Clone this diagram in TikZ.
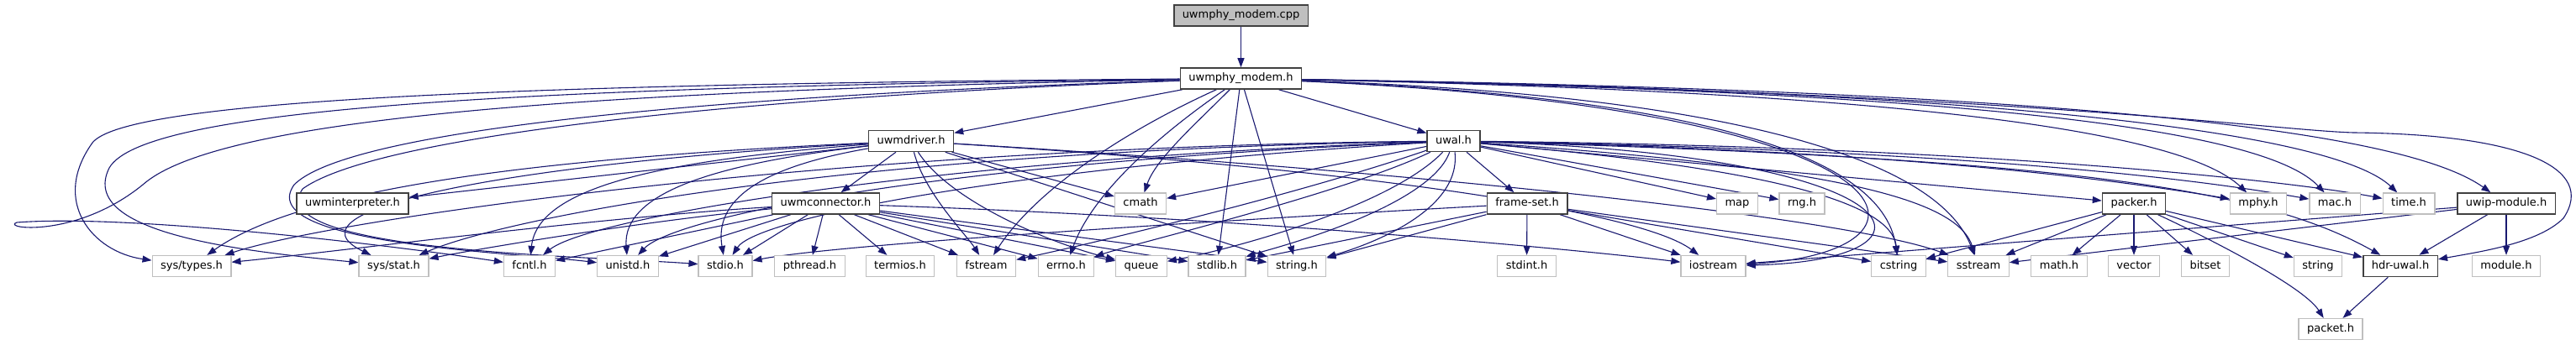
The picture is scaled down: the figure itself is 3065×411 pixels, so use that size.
\documentclass[tikz,border=0pt]{standalone}
\usepackage{fontspec}
\setmainfont{DejaVu Sans}
\usetikzlibrary{arrows.meta,backgrounds}
\definecolor{edgeblue}{HTML}{191970}
\definecolor{sysgray}{HTML}{BFBFBF}

\begin{document}
\begin{tikzpicture}[
  x=1pt, y=-1pt,
  font=\fontsize{13}{15}\selectfont,
  box/.style={draw, rectangle, fill=white, inner xsep=10pt, inner ysep=0pt,
              minimum height=25pt, text height=10pt, text depth=3pt},
  hdr/.style={box, draw=black!75, line width=1.5pt},
  sys/.style={box, draw=sysgray, line width=1.2pt},
  root/.style={hdr, fill=sysgray},
  arr/.style={draw=edgeblue, line width=1.1pt, -{Triangle[length=11pt,width=8pt]}}
]
\useasboundingbox (0,0) rectangle (3065,411);

% Top: the source file and its own header.
\node[root] (cpp) at (1476.5,18.5) {uwmphy\_modem.cpp};
\node[hdr] (modemh) at (1476.5,93.5) {uwmphy\_modem.h};

% Project headers.
\node[hdr] (driver) at (1084,168) {uwmdriver.h};
\node[hdr] (uwal) at (1729.5,168) {uwal.h};

% Third row.
\node[hdr] (interp)   at (419.5,242.5) {uwminterpreter.h};
\node[hdr] (conn)     at (982.5,242.5) {uwmconnector.h};
\node[sys] (cmath)    at (1357,242.5)  {cmath};
\node[hdr] (frameset) at (1817,242.5)  {frame-set.h};
\node[sys] (map)      at (2067,242.5)  {map};
\node[sys] (rng)      at (2144,242.5)  {rng.h};
\node[hdr] (packer)   at (2539,242.5)  {packer.h};
\node[sys] (mphy)     at (2687,242.5)  {mphy.h};
\node[sys] (mac)      at (2778,242.5)  {mac.h};
\node[sys] (timeh)    at (2866,242.5)  {time.h};
\node[hdr] (uwip)     at (2982,242.5)  {uwip-module.h};

% System headers, bottom row.
\node[sys] (systypes) at (228,317)    {sys/types.h};
\node[sys] (sysstat)  at (468.5,317)  {sys/stat.h};
\node[sys] (fcntl)    at (630,317)    {fcntl.h};
\node[sys] (unistd)   at (747,317)    {unistd.h};
\node[sys] (stdio)    at (863,317)    {stdio.h};
\node[sys] (pthread)  at (963.5,317)  {pthread.h};
\node[sys] (termios)  at (1071,317)   {termios.h};
\node[sys] (fstream)  at (1173.5,317) {fstream};
\node[sys] (errno)    at (1268.5,317) {errno.h};
\node[sys] (queue)    at (1358,317)   {queue};
\node[sys] (stdlib)   at (1448,317)   {stdlib.h};
\node[sys] (stringh)  at (1543,317)   {string.h};
\node[sys] (stdint)   at (1816.5,317) {stdint.h};
\node[sys] (iostream) at (2038.5,317) {iostream};
\node[sys] (cstring)  at (2259,317)   {cstring};
\node[sys] (sstream)  at (2354,317)   {sstream};
\node[sys] (mathh)    at (2450,317)   {math.h};
\node[sys] (vector)   at (2539,317)   {vector};
\node[sys] (bitset)   at (2624,317)   {bitset};
\node[sys] (string)   at (2758,317)   {string};
\node[hdr] (hdruwal)  at (2856,317)   {hdr-uwal.h};
\node[sys] (module)   at (2982,317)   {module.h};
\node[sys] (packet)   at (2773,392)   {packet.h};

\begin{scope}[on background layer]
% uwmphy_modem.cpp
\draw[arr] (cpp) -- (modemh);

% uwmphy_modem.h: straight and short bends
\path (modemh) edge[arr] (driver) edge[arr] (uwal) edge[arr] (stdlib) edge[arr] (stringh);
\draw[arr] (modemh) .. controls (1420,150) and (1375,190) .. (cmath);
\draw[arr] (modemh) .. controls (1330,160) and (1230,230) .. (fstream);
\draw[arr] (modemh) .. controls (1380,160) and (1300,230) .. (errno);
% uwmphy_modem.h: round the far left
\draw[arr] (modemh) .. controls (600,100) and (150,120) .. (110,170)
  .. controls (60,240) and (110,300) .. (systypes);
\draw[arr] (modemh) .. controls (600,104) and (170,130) .. (130,200)
  .. controls (90,280) and (300,300) .. (sysstat);
\draw[arr] (modemh) .. controls (700,108) and (260,140) .. (170,220)
  .. controls (90,285) and (0,272) .. (20,265)
  .. controls (150,255) and (450,290) .. (fcntl);
\draw[arr] (modemh) .. controls (900,112) and (420,150) .. (350,220)
  .. controls (300,290) and (600,300) .. (unistd);
\draw[arr] (modemh) .. controls (900,115) and (450,160) .. (360,225)
  .. controls (310,300) and (700,305) .. (stdio);
% uwmphy_modem.h: to the right
\draw[arr] (modemh) .. controls (2300,130) and (2330,300) .. (iostream);
\draw[arr] (modemh) .. controls (2000,115) and (2240,180) .. (cstring);
\draw[arr] (modemh) .. controls (2100,115) and (2310,200) .. (sstream);
\draw[arr] (modemh) .. controls (2300,110) and (2600,160) .. (mphy);
\draw[arr] (modemh) .. controls (2400,110) and (2700,160) .. (mac);
\draw[arr] (modemh) .. controls (2500,110) and (2790,170) .. (timeh);
\draw[arr] (modemh) .. controls (2600,110) and (2880,170) .. (uwip);
\draw[arr] (modemh) .. controls (2400,110) and (2700,155) .. (2800,158)
  .. controls (3000,160) and (3090,200) .. (3050,260)
  .. controls (3020,290) and (2950,300) .. (hdruwal);

% uwmdriver.h
\path (driver) edge[arr] (interp) edge[arr] (conn) edge[arr] (cmath) edge[arr] (stringh);
\draw[arr] (driver) .. controls (1100,230) and (1150,280) .. (fstream);
\draw[arr] (driver) .. controls (1130,240) and (1250,290) .. (queue);
\draw[arr] (driver) .. controls (600,190) and (350,230) .. (systypes);
\draw[arr] (driver) .. controls (600,195) and (330,250) .. (sysstat);
\draw[arr] (driver) .. controls (800,190) and (640,220) .. (fcntl);
\draw[arr] (driver) .. controls (850,195) and (740,230) .. (unistd);
\draw[arr] (driver) .. controls (900,200) and (850,240) .. (stdio);
\draw[arr] (driver) .. controls (1600,200) and (1950,250) .. (iostream);
\draw[arr] (driver) .. controls (1700,205) and (2200,260) .. (sstream);

% uwal.h
\path (uwal) edge[arr] (frameset) edge[arr] (packer) edge[arr] (map)
  edge[arr] (rng) edge[arr] (cmath);
\draw[arr] (uwal) .. controls (1550,230) and (1300,290) .. (fstream);
\draw[arr] (uwal) .. controls (1600,230) and (1350,290) .. (errno);
\draw[arr] (uwal) .. controls (1650,250) and (1450,300) .. (queue);
\draw[arr] (uwal) .. controls (1700,250) and (1500,300) .. (stdlib);
\draw[arr] (uwal) .. controls (1740,260) and (1600,300) .. (stringh);
\draw[arr] (uwal) .. controls (2290,185) and (2330,310) .. (iostream);
\draw[arr] (uwal) .. controls (2100,200) and (2250,240) .. (cstring);
\draw[arr] (uwal) .. controls (2200,200) and (2330,240) .. (sstream);
\draw[arr] (uwal) .. controls (2300,180) and (2550,220) .. (mphy);
\draw[arr] (uwal) .. controls (2400,180) and (2650,220) .. (mac);
\draw[arr] (uwal) .. controls (2400,175) and (2750,220) .. (timeh);
\draw[arr] (uwal) .. controls (2500,190) and (2700,230) .. (hdruwal);
\draw[arr] (uwal) .. controls (1000,175) and (400,260) .. (systypes);
\draw[arr] (uwal) .. controls (1000,180) and (600,260) .. (sysstat);
\draw[arr] (uwal) .. controls (1100,190) and (700,260) .. (fcntl);
\draw[arr] (uwal) .. controls (1100,195) and (800,260) .. (unistd);
\draw[arr] (uwal) .. controls (1200,200) and (900,260) .. (stdio);

% uwmconnector.h
\path (conn) edge[arr] (pthread) edge[arr] (termios) edge[arr] (fstream)
  edge[arr] (errno) edge[arr] (queue) edge[arr] (stdlib) edge[arr] (stringh)
  edge[arr] (stdio) edge[arr] (unistd) edge[arr] (fcntl);
\draw[arr] (conn) .. controls (700,260) and (400,300) .. (systypes);
\draw[arr] (conn) .. controls (750,265) and (550,300) .. (sysstat);
\draw[arr] (conn) .. controls (1500,260) and (1900,300) .. (iostream);

% frame-set.h
\path (frameset) edge[arr] (stdint) edge[arr] (stringh) edge[arr] (stdlib)
  edge[arr] (cstring) edge[arr] (sstream) edge[arr] (iostream);
\draw[arr] (frameset) .. controls (1500,260) and (1000,290) .. (stdio);

% packer.h
\path (packer) edge[arr] (cstring) edge[arr] (sstream) edge[arr] (mathh)
  edge[arr] (vector) edge[arr] (bitset) edge[arr] (string) edge[arr] (hdruwal);
\draw[arr] (packer) .. controls (2620,280) and (2740,340) .. (packet);

% uwip-module.h
\path (uwip) edge[arr] (module) edge[arr] (hdruwal) edge[arr] (sstream) edge[arr] (iostream);

% hdr-uwal.h
\draw[arr] (hdruwal) -- (packet);
\end{scope}
\end{tikzpicture}
\end{document}
